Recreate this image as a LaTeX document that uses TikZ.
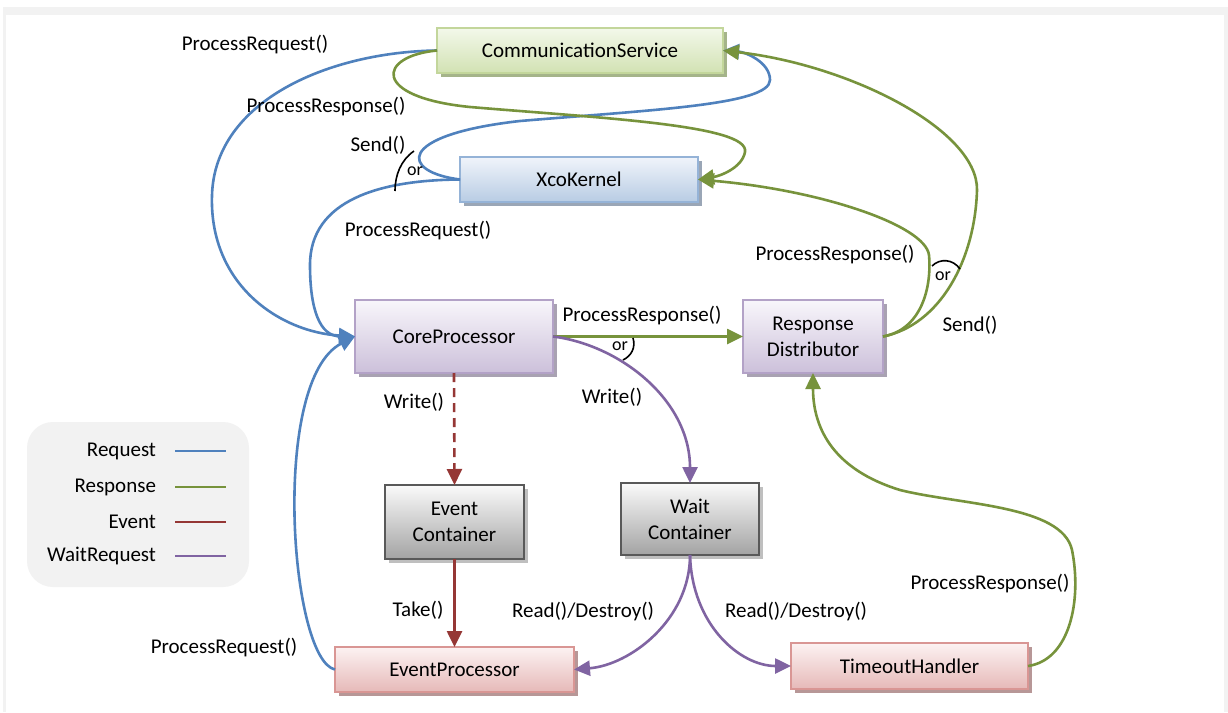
\documentclass[tikz,border=0pt]{standalone}
\usepackage{fontspec}
\setmainfont{Carlito}
\usetikzlibrary{arrows.meta,shadows}
\definecolor{reqblue}{HTML}{4F81BD}
\definecolor{resgreen}{HTML}{77933C}
\definecolor{evred}{HTML}{953735}
\definecolor{wpurple}{HTML}{8064A2}
\definecolor{framegray}{HTML}{F2F2F2}
\definecolor{csborder}{HTML}{C3D69B}
\definecolor{cstop}{HTML}{F3F8EA}
\definecolor{csbot}{HTML}{D2E2B3}
\definecolor{csshadow}{HTML}{A5B48A}
\definecolor{xkborder}{HTML}{95B3D7}
\definecolor{xktop}{HTML}{F0F4FA}
\definecolor{xkbot}{HTML}{B8CCE4}
\definecolor{xkshadow}{HTML}{9AA6B6}
\definecolor{pborder}{HTML}{B3A2C7}
\definecolor{ptop}{HTML}{F8F6FB}
\definecolor{pbot}{HTML}{CCC0DA}
\definecolor{pshadow}{HTML}{A9A2B2}
\definecolor{gborder}{HTML}{595959}
\definecolor{gtop}{HTML}{FAFAFA}
\definecolor{gbot}{HTML}{A3A3A3}
\definecolor{gshadow}{HTML}{BFBFBF}
\definecolor{rborder}{HTML}{D99694}
\definecolor{rtop}{HTML}{FCF2F2}
\definecolor{rbot}{HTML}{E6B9B8}
\definecolor{rshadow}{HTML}{B79797}
\begin{document}
\begin{tikzpicture}[x=1pt,y=-1pt,
  every node/.style={font=\fontsize{21}{26}\selectfont, inner sep=0pt, outer sep=0pt},
  box/.style={draw, line width=2pt, shading=axis, align=center},
  csbox/.style={box, draw=csborder, top color=cstop, bottom color=csbot,
     drop shadow={shadow xshift=4pt, shadow yshift=-4pt, fill=csshadow, opacity=1}},
  xkbox/.style={box, draw=xkborder, top color=xktop, bottom color=xkbot,
     drop shadow={shadow xshift=4pt, shadow yshift=-4pt, fill=xkshadow, opacity=1}},
  pbox/.style={box, draw=pborder, top color=ptop, bottom color=pbot,
     drop shadow={shadow xshift=4pt, shadow yshift=-4pt, fill=pshadow, opacity=1}},
  gbox/.style={box, line width=2.6pt, draw=gborder, top color=gtop, bottom color=gbot,
     drop shadow={shadow xshift=4pt, shadow yshift=-4pt, fill=gshadow, opacity=1}},
  rbox/.style={box, draw=rborder, top color=rtop, bottom color=rbot,
     drop shadow={shadow xshift=4pt, shadow yshift=-4pt, fill=rshadow, opacity=1}},
  lbl/.style={text=black},
  orlbl/.style={font=\fontsize{18}{20}\selectfont},
  conn/.style={line width=2.6pt},
  arr/.style={-{Triangle[length=16pt,width=15pt]}},
  req/.style={conn, draw=reqblue},
  res/.style={conn, draw=resgreen},
  ev/.style={conn, draw=evred},
  wt/.style={conn, draw=wpurple},
  orarc/.style={draw=black, line width=1.6pt}
]
\useasboundingbox (0,0) rectangle (1228,712);
% frame
\fill[framegray] (3,7) rectangle (1228,712);
\fill[white] (6,15) rectangle (1224,712);

% nodes
\node[csbox, minimum width=286pt, minimum height=45pt] (cs) at (580,50.5) {CommunicationService};
\node[xkbox, minimum width=238pt, minimum height=45pt] (xk) at (579,179.5) {XcoKernel};
\node[pbox, minimum width=198pt, minimum height=73pt] (cp) at (454,336.5) {CoreProcessor};
\node[pbox, minimum width=140pt, minimum height=73pt] (rd) at (813,336.5) {Response\\Distributor};
\node[gbox, minimum width=139pt, minimum height=74pt] (ec) at (454.5,522) {Event\\Container};
\node[gbox, minimum width=138pt, minimum height=72pt] (wc) at (690,519) {Wait\\Container};
\node[rbox, minimum width=239pt, minimum height=45pt] (ep) at (454.5,669.5) {EventProcessor};
\node[rbox, minimum width=237pt, minimum height=46pt] (th) at (909.5,666) {TimeoutHandler};

% legend
\node[fill=framegray, rounded corners=26pt, minimum width=222pt, minimum height=165pt] (legend) at (138,504.5) {};
\node[anchor=east] (lg1) at (156,451) {Request};
\node[anchor=east] (lg2) at (156,487) {Response};
\node[anchor=east] (lg3) at (156,522) {Event};
\node[anchor=east] (lg4) at (156,556) {WaitRequest};
\draw[req] (175,451) -- (226,451);
\draw[res] (175,487) -- (226,487);
\draw[ev] (175,522) -- (226,522);
\draw[wt] (175,556) -- (226,556);

% blue: CommunicationService -> CoreProcessor
\draw[req, arr] (cs.west) .. controls (330,52) and (215,100) .. (212,195)
   .. controls (209,285) and (280,332) .. (cp.west);
% blue: XcoKernel -> CoreProcessor
\draw[req, arr] (xk.west) .. controls (380,180) and (310,200) .. (310,265)
   .. controls (310,310) and (320,336) .. (cp.west);
% blue: EventProcessor -> CoreProcessor
\draw[req, arr] (ep.west) .. controls (290,660) and (270,380) .. (cp.west);
% blue: XcoKernel Send() -> CommunicationService
\draw[req, arr] (xk.west) .. controls (400,172) and (395,135) .. (520,121)
   .. controls (650,110) and (770,105) .. (770,80)
   .. controls (770,62) and (745,52) .. (cs.east);
% green: CommunicationService ProcessResponse() -> XcoKernel
\draw[res, arr] (cs.west) .. controls (378,56) and (370,97) .. (470,107)
   .. controls (600,118) and (750,125) .. (745,152)
   .. controls (742,168) and (720,176) .. (xk.east);
% green: ResponseDistributor -> XcoKernel
\draw[res, arr] (rd.east) .. controls (920,330) and (932,290) .. (929,255)
   .. controls (925,225) and (820,190) .. (xk.east);
% green: ResponseDistributor Send() -> CommunicationService
\draw[res, arr] (rd.east) .. controls (940,325) and (975,260) .. (977,190)
   .. controls (978,130) and (850,65) .. (cs.east);
% green: CoreProcessor -> ResponseDistributor
\draw[res, arr] (cp.east) -- (rd.west);
% purple: CoreProcessor -> Wait Container
\draw[wt, arr] (cp.east) .. controls (620,345) and (690,400) .. (wc.north);
% red dashed: CoreProcessor -> Event Container
\draw[ev, arr, dash pattern=on 9pt off 6pt] (cp.south) -- (ec.north);
% red: Event Container -> EventProcessor
\draw[ev, arr] (ec.south) -- (ep.north);
% purple: Wait Container -> EventProcessor / TimeoutHandler
\draw[wt, arr] (wc.south) .. controls (690,620) and (630,665) .. (ep.east);
\draw[wt, arr] (wc.south) .. controls (692,625) and (740,666) .. (th.west);
% green: TimeoutHandler -> ResponseDistributor
\draw[res, arr] (th.east) .. controls (1070,660) and (1082,600) .. (1072,550)
   .. controls (1062,505) and (960,505) .. (900,490)
   .. controls (835,470) and (813,430) .. (rd.south);

% "or" arcs
\draw[orarc] (414,151) .. controls (401,160) and (395,175) .. (395,191);
\draw[orarc] (633,338) .. controls (636,348) and (631,356) .. (623,360);
\draw[orarc] (932,266) .. controls (940,258) and (953,259) .. (960,269);
\node[orlbl] (or1) at (415,171) {or};
\node[orlbl] (or2) at (620,346) {or};
\node[orlbl] (or3) at (943,276) {or};

% labels
\node[lbl] (t1) at (255,45) {ProcessRequest()};
\node[lbl] (t2) at (326,107) {ProcessResponse()};
\node[lbl] (t3) at (378,145) {Send()};
\node[lbl] (t4) at (418,231) {ProcessRequest()};
\node[lbl] (t5) at (642,316) {ProcessResponse()};
\node[lbl] (t6) at (835,255) {ProcessResponse()};
\node[lbl] (t7) at (970,325) {Send()};
\node[lbl] (t8) at (414,402) {Write()};
\node[lbl] (t9) at (612,397) {Write()};
\node[lbl] (t10) at (418,610) {Take()};
\node[lbl] (t11) at (583,612) {Read()/Destroy()};
\node[lbl] (t12) at (796,612) {Read()/Destroy()};
\node[lbl] (t13) at (990,584) {ProcessResponse()};
\node[lbl] (t14) at (224,648) {ProcessRequest()};
\end{tikzpicture}
\end{document}
